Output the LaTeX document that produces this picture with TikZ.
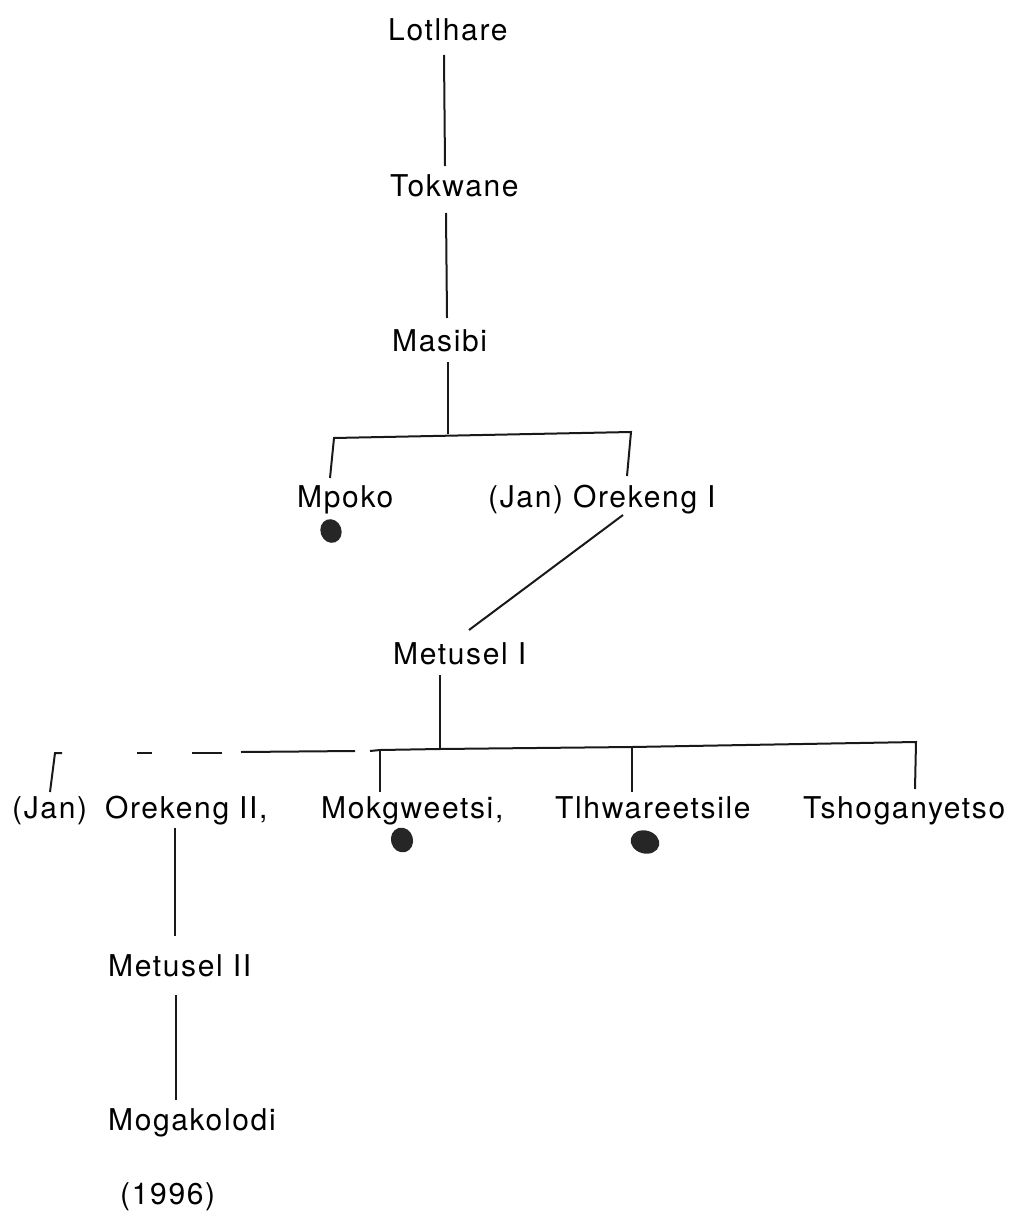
\documentclass[tikz,border=0pt]{standalone}
\usepackage{fontspec}
\setmainfont[LetterSpace=5.5]{TeX Gyre Heros}
\begin{document}
\begin{tikzpicture}[x=1pt,y=-1pt,
  person/.style={anchor=base west,inner sep=0pt,font=\fontsize{30}{36}\selectfont},
  link/.style={line width=2pt,black!90},
  deaddot/.style={fill=black!85,draw=none}]
\useasboundingbox (0,0) rectangle (1013,1214);
% names
\node[person] (lot) at (388,41) {Lotlhare};
\node[person] (tok) at (390,197) {Tokwane};
\node[person] (mas) at (392,351) {Masibi};
\node[person] (mpo) at (297,507) {Mpoko};
\node[person] (ore1) at (488,507) {(Jan) Orekeng I};
\node[person] (met1) at (393,664) {Metusel I};
\node[person] (ore2) at (12,818) {(Jan)\hspace{0.6em}Orekeng II,};
\node[person] (mok) at (321,818) {Mokgweetsi,};
\node[person] (tlh) at (555,818) {Tlhwareetsile};
\node[person] (tsh) at (803,818) {Tshoganyetso};
\node[person] (met2) at (108,976) {Metusel II};
\node[person] (mog) at (108,1130) {Mogakolodi};
\node[person] (yr) at (120,1204) {(1996)};
% joints
\coordinate (lotS) at (444,55);  \coordinate (tokN) at (445,166);
\coordinate (tokS) at (446,213); \coordinate (masN) at (447,318);
\coordinate (masS) at (448,362); \coordinate (bar1m) at (448,434);
\coordinate (bar1l) at (334,438); \coordinate (bar1r) at (631,432);
\coordinate (mpoN) at (330,478); \coordinate (ore1N) at (627,476);
\coordinate (ore1S) at (623,515); \coordinate (met1N) at (469,630);
\coordinate (met1S) at (440,675); \coordinate (bar2m) at (440,749);
\coordinate (bar2l) at (55,753);  \coordinate (bar2r) at (916,742);
\coordinate (bar2k) at (380,750); \coordinate (bar2t) at (632,747);
\coordinate (ore2N) at (50,792); \coordinate (mokN) at (380,792);
\coordinate (tlhN) at (632,792); \coordinate (tshN) at (915,789);
\coordinate (ore2S) at (175,828); \coordinate (met2N) at (175,936);
\coordinate (met2S) at (176,995); \coordinate (mogN) at (176,1100);
% connectors
\draw[link] (lotS) -- (tokN);
\draw[link] (tokS) -- (masN);
\draw[link] (masS) -- (bar1m);
\draw[link] (mpoN) -- (bar1l) -- (bar1r) -- (ore1N);
\draw[link] (ore1S) -- (met1N);
\draw[link] (met1S) -- (bar2m);
\draw[link] (bar2k) -- (bar2m) -- (bar2t) -- (bar2r) -- (tshN);
\draw[link] (bar2k) -- (mokN);
\draw[link] (bar2t) -- (tlhN);
\draw[link] (ore2N) -- (bar2l) -- ++(7,0);
\draw[link] (137,753) -- (152,753);
\draw[link] (192,752.5) -- (222,752.5);
\draw[link] (241,752) -- (355,751);
\draw[link] (370,751) -- (bar2k);
\draw[link] (ore2S) -- (met2N);
\draw[link] (met2S) -- (mogN);
% dots
\fill[deaddot,rotate around={20:(331,531)}] (331,531) ellipse (10.5 and 12);
\fill[deaddot,rotate around={15:(402,840)}] (402,840) ellipse (11 and 12.5);
\fill[deaddot,rotate around={-15:(645,842)}] (645,842) ellipse (14.5 and 11.5);
\end{tikzpicture}
\end{document}
